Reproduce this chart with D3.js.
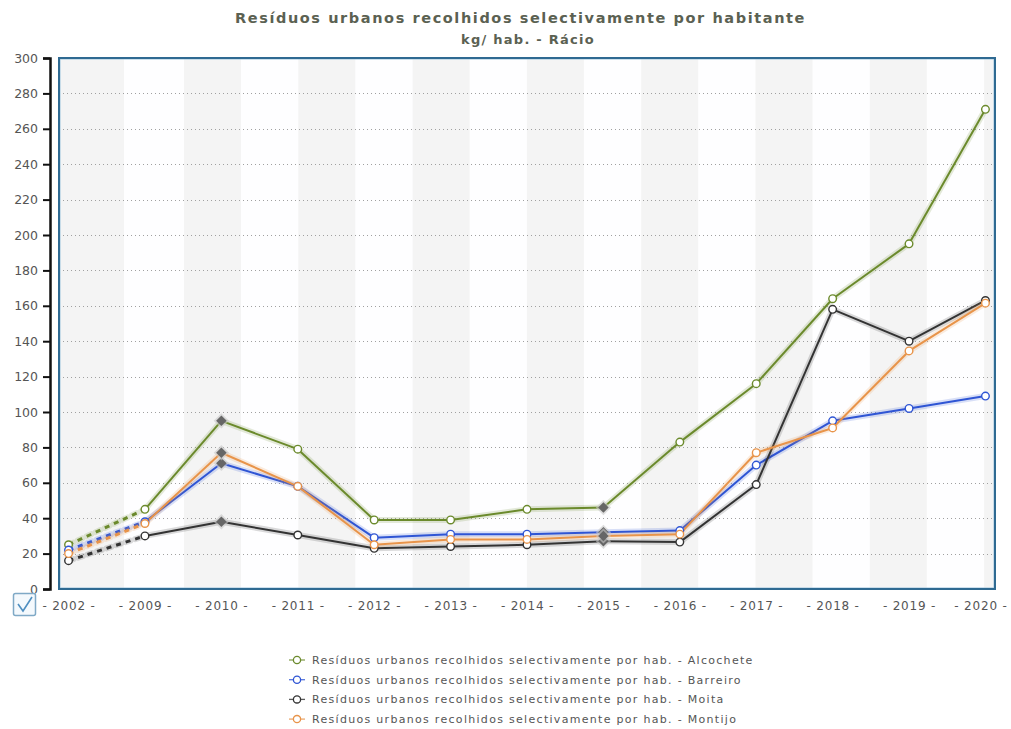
<!DOCTYPE html>
<html>
<head>
<meta charset="utf-8">
<script src="https://cdn.jsdelivr.net/npm/d3@7"></script>
<style>
html,body{margin:0;padding:0;background:#fff;}
svg{display:block;font-family:"DejaVu Sans",Verdana,sans-serif;}
</style>
</head>
<body>
<svg id="chart" width="1011" height="729"></svg>
<script>
const titleText = "Resíduos urbanos recolhidos selectivamente por habitante";
const subtitleText = "kg/ hab. - Rácio";
const years = ["2002","2009","2010","2011","2012","2013","2014","2015","2016","2017","2018","2019","2020"];
const yTicks = [0,20,40,60,80,100,120,140,160,180,200,220,240,260,280,300];
const seriesNames = ["Alcochete","Barreiro","Moita","Montijo"];
const seriesColors = ["#6b8a2c","#2f55d4","#333333","#e8944a"];
const alcochete = [25,45,95,79,39,39,45,46,83,116,164,195,271];
const barreiro  = [22,38,71,58,29,31,31,32,33,70,95,102,109];
const moita     = [16,30,38,30.5,23,24,25,27,26.5,59,158,140,163];
const montijo   = [20,37,77,58,25,28,28,30,31,77,91,134.5,161.5];
const seriesValues = [alcochete, barreiro, moita, montijo];
const dashedAfter = ["2002"];          // segment from this year to the next is dashed
const flaggedYears = ["2010","2015"];   // points drawn as grey diamonds
const legendPrefix = "Resíduos urbanos recolhidos selectivamente por hab. - ";

const svg = d3.select("#chart");
const plot = {l:59, r:995, t:58, b:589};

const x = d3.scalePoint().domain(years).range([plot.l, plot.r]).padding(0.125);
const y = d3.scaleLinear().domain([0,300]).range([plot.b, plot.t]);

function fitText(sel, targetWidth) {
  const node = sel.node();
  const n = node.textContent.length;
  const w = node.getComputedTextLength();
  const ls = (targetWidth - w) / n;
  sel.attr("letter-spacing", ls);
}

// Title
const t1 = svg.append("text").attr("x", 235).attr("y", 23)
  .attr("font-size", 14.5).attr("font-weight","bold").attr("fill","#5b6152").text(titleText);
fitText(t1, 571);
const t2 = svg.append("text").attr("x", 461).attr("y", 44)
  .attr("font-size", 13).attr("font-weight","bold").attr("fill","#5b6152").text(subtitleText);
fitText(t2, 134);

// plot background and stripes
const defs = svg.append("defs");
defs.append("clipPath").attr("id","plotclip").append("rect")
  .attr("x", plot.l).attr("y", plot.t).attr("width", plot.r-plot.l).attr("height", plot.b-plot.t);
const gPlot = svg.append("g").attr("clip-path","url(#plotclip)");
gPlot.append("rect").attr("x", plot.l).attr("y", plot.t).attr("width", plot.r-plot.l).attr("height", plot.b-plot.t).attr("fill","#fefeff");
const period = 114.3, bandW = 57;
const starts = [plot.l];
for (let s = 184; s < plot.r; s += period) starts.push(s);
starts.forEach((s,i) => {
  const w = i === 0 ? 124 - plot.l : bandW;
  gPlot.append("rect").attr("x", s).attr("y", plot.t).attr("width", w).attr("height", plot.b-plot.t).attr("fill","#f4f4f4");
});

// gridlines
gPlot.selectAll("line.grid").data(yTicks.filter(t => t>0 && t<300)).join("line")
  .attr("class","grid").attr("x1", plot.l).attr("x2", plot.r)
  .attr("y1", d => Math.round(y(d))+0.5).attr("y2", d => Math.round(y(d))+0.5)
  .attr("stroke","#a0a0a0").attr("stroke-width",1).attr("stroke-dasharray","1,3");

// frame
svg.append("rect").attr("x", plot.l+1).attr("y", plot.t+1).attr("width", plot.r-plot.l-2).attr("height", plot.b-plot.t-2)
  .attr("fill","none").attr("stroke","#9cc3dc").attr("stroke-width",1);
svg.append("rect").attr("x", plot.l).attr("y", plot.t).attr("width", plot.r-plot.l).attr("height", plot.b-plot.t)
  .attr("fill","none").attr("stroke","#2f6a92").attr("stroke-width",2);

// Y axis
const yAxis = d3.axisLeft(y).tickValues(yTicks).tickSize(7).tickPadding(5);
const gy = svg.append("g").attr("transform", "translate(50,0)").call(yAxis);
gy.select(".domain").attr("stroke","#111").attr("stroke-width",2.5);
gy.selectAll(".tick line").attr("stroke","#111").attr("stroke-width",2);
gy.selectAll(".tick text").attr("font-size",12.5).attr("fill","#555").attr("font-family","DejaVu Sans, sans-serif");

// X axis labels
const xAxis = d3.axisBottom(x).tickSize(0).tickPadding(12).tickFormat(d => "- " + d + " -");
const gx = svg.append("g").attr("transform", `translate(0,${plot.b})`).call(xAxis);
gx.select(".domain").remove();
gx.selectAll(".tick text").attr("font-size",12).attr("fill","#555").attr("font-family","DejaVu Sans, sans-serif")
  .attr("letter-spacing", 0.8)
  .attr("dx", (d,i) => i === years.length-1 ? -5 : 0);

// checkbox
const cb = svg.append("g");
cb.append("rect").attr("x", 13.5).attr("y", 593.5).attr("width", 22).attr("height", 22).attr("rx", 2)
  .attr("fill","#f4f9fd").attr("stroke","#7fa9c6").attr("stroke-width",1.5);
cb.append("path").attr("d","M18,604 L23,611 L32,597").attr("fill","none").attr("stroke","#4f8fc0").attr("stroke-width",1.6);

// series lines
const gLines = svg.append("g").attr("clip-path","url(#plotclip)");
seriesValues.forEach((vals, si) => {
  const pts = years.map((yr,i) => ({yr, v: vals[i]}));
  const color = seriesColors[si];
  for (let i = 0; i < pts.length-1; i++) {
    const a = pts[i], b = pts[i+1];
    const dashed = dashedAfter.includes(a.yr);
    const seg = d3.line().x(d => x(d.yr)).y(d => y(d.v));
    gLines.append("path").attr("d", seg([a,b])).attr("fill","none")
      .attr("stroke", color).attr("stroke-opacity",0.18).attr("stroke-width", 6)
      .attr("stroke-linecap","round")
      .attr("stroke-dasharray", dashed ? "5,5" : null);
    gLines.append("path").attr("d", seg([a,b])).attr("fill","none")
      .attr("stroke", color).attr("stroke-width", dashed ? 3 : 2)
      .attr("stroke-dasharray", dashed ? "5,5" : null);
  }
});
// markers
seriesValues.forEach((vals, si) => {
  const color = seriesColors[si];
  years.forEach((yr,i) => {
    const cx = x(yr), cy = y(vals[i]);
    if (flaggedYears.includes(yr)) {
      gLines.append("path").attr("d", d3.symbol(d3.symbolDiamond2, 150)())
        .attr("transform", `translate(${cx},${cy})`).attr("fill","#c8c8c8").attr("opacity",0.6);
      gLines.append("path").attr("d", d3.symbol(d3.symbolDiamond2, 70)())
        .attr("transform", `translate(${cx},${cy})`).attr("fill","#666");
    } else {
      gLines.append("circle").attr("cx", cx).attr("cy", cy).attr("r", 3.8)
        .attr("fill","#fff").attr("stroke", color).attr("stroke-width",1.4);
    }
  });
});

// legend
const gLeg = svg.append("g");
seriesNames.forEach((name, i) => {
  const ly = 660 + i*19.7;
  const color = seriesColors[i];
  gLeg.append("line").attr("x1", 289).attr("x2", 305).attr("y1", ly).attr("y2", ly)
    .attr("stroke", color).attr("stroke-width", 1.3).attr("opacity",0.8);
  gLeg.append("circle").attr("cx", 297).attr("cy", ly).attr("r", 3.6)
    .attr("fill","#fff").attr("stroke", color).attr("stroke-width",1.3);
  gLeg.append("text").attr("x", 312).attr("y", ly+4).attr("font-size", 11).attr("fill","#555")
    .attr("letter-spacing", 1.3).text(legendPrefix + name);
});
</script>
</body>
</html>
